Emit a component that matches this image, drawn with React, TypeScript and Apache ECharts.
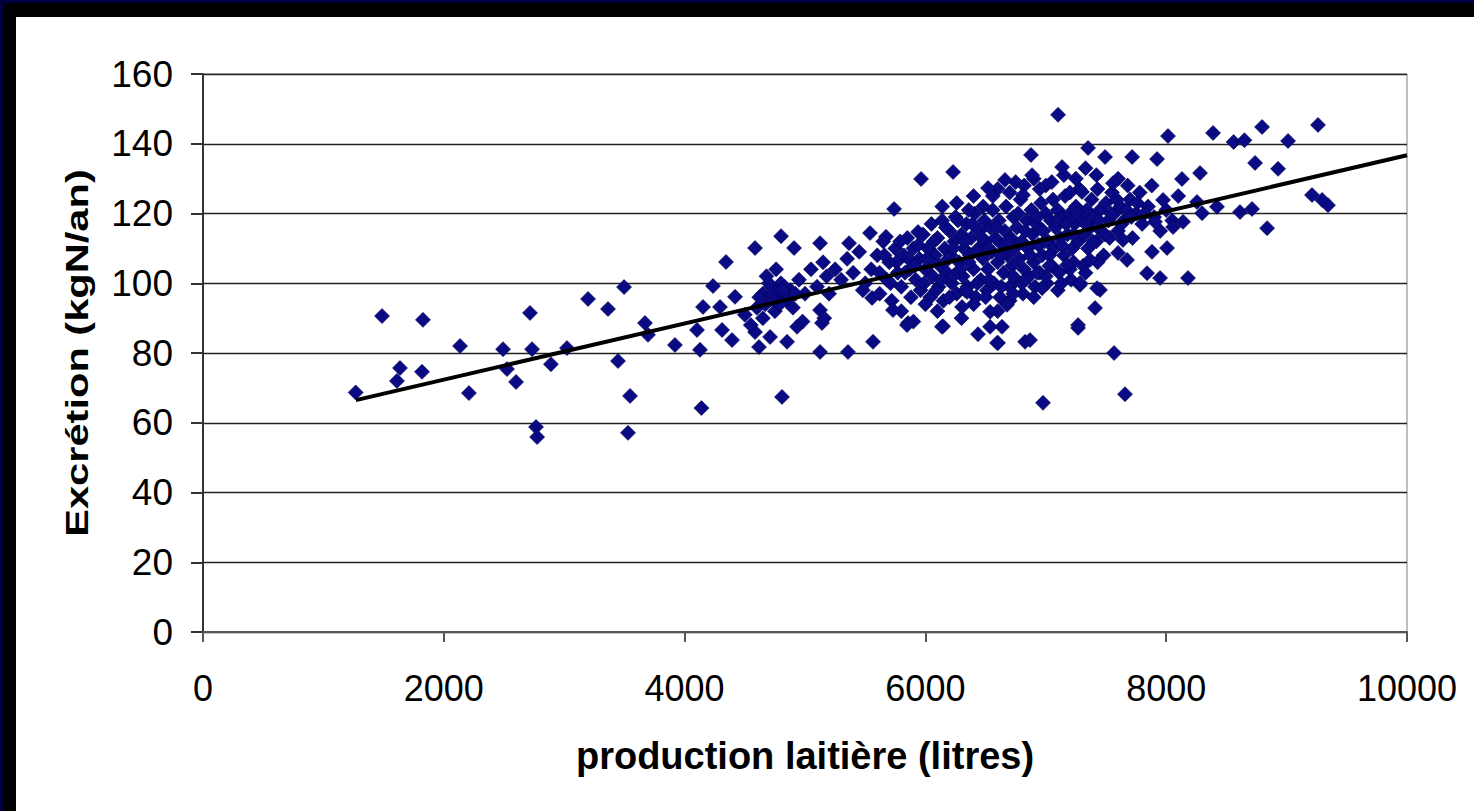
import React, { useEffect, useRef } from "react";
import * as echarts from "echarts";

// ---- Data (x: production laitière in litres, y: excrétion in kgN/an) ----
const xTicks = [0, 2000, 4000, 6000, 8000, 10000];
const yTicks = [0, 20, 40, 60, 80, 100, 120, 140, 160];

const lowPoints: number[][] = [
  [1268, 68.7], [1487, 90.6], [1636, 75.7], [1611, 72.0], [1827, 89.5], [1819, 74.6],
  [2135, 82.0], [2209, 68.5], [2492, 81.1], [2525, 75.4], [2600, 71.7], [2716, 91.5],
  [2733, 81.1], [2766, 58.8], [2775, 55.9], [2890, 76.8], [3023, 81.4], [3198, 95.5],
  [3364, 92.6], [3497, 98.9], [3447, 77.7], [3547, 67.7], [3530, 57.1], [3671, 88.6],
  [3696, 85.2], [3920, 82.3],
];

const midPoints: number[][] = [
  [4103, 86.6], [4128, 80.9], [4153, 93.2], [4236, 99.2], [4294, 93.2], [4311, 86.6],
  [4394, 83.7], [4419, 96.1], [4344, 106.1], [4585, 110.1], [4585, 86.0], [4618, 81.7],
  [4710, 84.6], [4851, 83.2], [4934, 87.5], [4809, 67.4], [5125, 80.3], [5357, 80.3],
  [5565, 83.2], [5557, 95.8], [5141, 88.6], [5125, 92.3], [4909, 110.1], [5125, 111.5],
  [5366, 111.5], [5540, 114.4], [4801, 113.5], [5673, 113.3], [5939, 114.7], [4140, 64.2],
  [4600, 93], [4650, 97], [4700, 95], [4720, 99], [4750, 92], [4780, 97], [4800, 100],
  [4850, 95], [4880, 98], [4900, 93], [4950, 101], [5000, 97], [5050, 104], [5100, 99],
  [5150, 106], [5180, 102], [5200, 97], [5250, 104], [5300, 101], [5350, 107], [5400, 103],
  [5450, 109], [5480, 98], [5160, 90], [4980, 89], [4500, 91], [4550, 88], [4650, 90],
  [4680, 102], [4760, 104], [4620, 96], [4670, 94], [4730, 97], [4790, 94], [4830, 99],
  [4870, 96], [4920, 97], [4700, 100], [4740, 95], [4810, 98],
];

const corePoints: number[][] = [
  [5500, 100], [5550, 104], [5600, 108], [5620, 97], [5650, 112], [5680, 101], [5700, 106],
  [5720, 95], [5750, 110], [5770, 103], [5800, 99], [5820, 108], [5850, 113], [5870, 104],
  [5880, 96], [5900, 110], [5920, 101], [5950, 107], [5960, 98], [5980, 114], [6000, 104],
  [6020, 110], [6040, 96], [6050, 117], [6060, 102], [6080, 108], [6100, 113], [6110, 99],
  [6120, 105], [6140, 118], [6150, 95], [6160, 110], [6180, 103], [6200, 115], [6210, 108],
  [6220, 100], [6240, 112], [6250, 119], [6260, 97], [6280, 106], [6300, 114], [6310, 102],
  [6320, 110], [6340, 117], [6350, 99], [6370, 108], [6380, 113], [6400, 104], [6410, 120],
  [6420, 96], [6440, 110], [6450, 115], [6460, 101], [6480, 107], [6490, 118], [6500, 112],
  [6510, 98], [6520, 104], [6540, 116], [6550, 109], [6560, 121], [6570, 100], [6580, 113],
  [6600, 106], [6610, 118], [6620, 96], [6640, 111], [6650, 103], [6660, 115], [6670, 122],
  [6680, 108], [6700, 99], [6710, 113], [6720, 105], [6730, 119], [6740, 110], [6750, 101],
  [6760, 116], [6780, 107], [6790, 124], [6800, 112], [6810, 97], [6820, 104], [6840, 118],
  [6850, 110], [6860, 102], [6880, 121], [6890, 114], [6900, 106], [6910, 99], [6920, 117],
  [6940, 111], [6950, 103], [6960, 123], [6970, 108], [6980, 115], [7000, 120], [7010, 100],
  [7020, 112], [7040, 118], [7050, 105], [7060, 124], [7070, 110], [7080, 116], [7100, 121],
  [7110, 103], [7120, 113], [7140, 119], [7150, 108], [7160, 125], [7180, 114], [7200, 120],
  [7210, 101], [7220, 110], [7240, 117], [7250, 122], [7270, 112], [7280, 127], [7300, 118],
  [7310, 105], [7320, 114], [7340, 121], [7350, 110], [7370, 116], [7380, 124], [7400, 119],
  [7420, 112], [7430, 127], [7450, 121], [7460, 115], [7480, 108], [7500, 123], [7520, 118],
  [7530, 113], [7550, 126], [7570, 120], [7600, 115], [7620, 122], [7650, 118], [7680, 128],
  [7700, 124], [7720, 113], [7750, 120], [7780, 126], [7800, 117], [7850, 122], [7880, 128],
  [7900, 119], [7950, 115], [8000, 121], [8050, 118], [8100, 125],
  [5800, 92], [5900, 89], [6000, 94], [6100, 92], [6200, 96], [6300, 90], [6400, 94],
  [6500, 96], [6600, 92], [6700, 95], [6800, 100], [6900, 96], [7000, 102], [7100, 98],
  [7200, 104], [6400, 125], [6600, 127], [6750, 129], [6900, 130], [7000, 128], [7150, 131],
  [7200, 126],
];

const coreFill: number[][] = [
  [6050, 106], [6070, 112], [6130, 101], [6170, 116], [6190, 107], [6230, 110], [6270, 118],
  [6290, 104], [6330, 112], [6360, 106], [6390, 117], [6430, 109], [6470, 113], [6530, 110],
  [6590, 116], [6630, 108], [6690, 112], [6730, 102], [6770, 120], [6830, 115], [6870, 108],
  [6930, 119], [6990, 112], [7030, 108], [7090, 118], [7130, 111], [7170, 117], [7230, 114],
  [7260, 120], [7330, 117], [7390, 112], [7440, 118], [7490, 114], [7540, 120], [7590, 124],
  [7630, 117], [7670, 121], [7710, 119], [7760, 123], [7820, 120], [5620, 103], [5660, 108],
  [5710, 100], [5760, 106], [5790, 112], [5830, 103], [5860, 107], [5910, 105], [5940, 111],
  [5990, 100], [6010, 107], [6090, 98], [6230, 102], [6330, 98], [6430, 100], [6530, 101],
  [6630, 99], [6730, 97], [6830, 101], [6930, 103], [7030, 105], [7130, 100], [7230, 106],
  [7330, 103], [7430, 106], [6700, 126], [6820, 128], [6950, 127], [7050, 129], [7250, 130],
  [7330, 133], [7420, 131], [7600, 130], [6560, 125], [6480, 122], [6360, 121], [6260, 123],
  [6140, 122],
];

const sparseLowRight: number[][] = [
  [7567, 80.0], [7658, 68.2], [6977, 65.7], [7268, 87.2], [7409, 92.9], [7450, 98.1],
  [6828, 83.2], [6869, 83.7], [6603, 82.9], [6437, 85.4], [6636, 87.5], [6537, 87.5],
  [6537, 91.8], [6678, 93.8], [6146, 87.7], [6304, 93.2], [5856, 88.6], [6346, 97.5],
  [6969, 98.6], [7284, 99.5], [5731, 92.3], [5847, 88.0], [6138, 87.5], [6595, 82.9],
];

const highPoints: number[][] = [
  [7102, 148.3], [5964, 129.9], [6230, 131.9], [5740, 121.3], [7351, 138.8], [7135, 133.3],
  [6877, 136.8], [6886, 131], [6520, 127.3], [6661, 129.6], [7301, 126.2], [6811, 125.3],
  [8015, 142.2], [8389, 143.1], [8560, 140.5], [8650, 141], [8796, 144.8], [9012, 140.8],
  [9261, 145.4], [8738, 134.5], [8929, 132.8], [9211, 125.3], [9344, 122.4], [9295, 123.9],
  [8838, 115.8], [8613, 120.4], [8713, 121.3], [8422, 121.9], [8298, 120.1], [8281, 131.6],
  [8131, 129.9], [8256, 123.3], [7924, 135.6], [7717, 136.2], [7492, 136.2], [7558, 128.7],
  [7974, 123.9], [7641, 112.4], [7882, 109], [8007, 110.1], [7841, 102.9], [7949, 101.5],
  [8181, 101.5], [7675, 106.7], [7600, 108.7], [7426, 98.6], [7284, 100.1], [7268, 88.0],
  [7367, 106.7], [7176, 105.2], [7907, 117.6], [8057, 116.1], [8140, 117.6],
];

const trendLine: number[][] = [
  [1270, 66.5],
  [10000, 136.7],
];

const xTitle = "production laitière (litres)";
const yTitle = "Excrétion (kgN/an)";

const FONT = 'Arial, "Liberation Sans", sans-serif';

export default function App() {
  const ref = useRef<HTMLDivElement>(null);

  useEffect(() => {
    document.body.style.margin = "0";
    document.body.style.background = "#ffffff";
    if (!ref.current) return;
    const chart = echarts.init(ref.current, null, { renderer: "svg" });
    const allPoints = [
      ...lowPoints,
      ...midPoints,
      ...corePoints,
      ...coreFill,
      ...sparseLowRight,
      ...highPoints,
    ];
    chart.setOption({
      animation: false,
      backgroundColor: "#ffffff",
      grid: {
        left: 203,
        right: 67,
        top: 74,
        bottom: 179,
        show: true,
        borderColor: "#808080",
        borderWidth: 1,
        backgroundColor: "transparent",
      },
      xAxis: {
        type: "value",
        min: xTicks[0],
        max: xTicks[xTicks.length - 1],
        interval: 2000,
        axisLine: { show: true, onZero: false, lineStyle: { color: "#555555", width: 2 } },
        axisTick: { show: true, inside: false, length: 10, lineStyle: { color: "#555555", width: 2 } },
        splitLine: { show: false },
        axisLabel: {
          color: "#000000",
          fontSize: 36,
          fontFamily: FONT,
          margin: 38,
          formatter: (v: number) => String(v),
        },
      },
      yAxis: {
        type: "value",
        min: yTicks[0],
        max: yTicks[yTicks.length - 1],
        interval: 20,
        axisLine: { show: true, onZero: false, lineStyle: { color: "#333333", width: 2 } },
        axisTick: { show: true, inside: false, length: 12, lineStyle: { color: "#333333", width: 2 } },
        splitLine: { show: true, lineStyle: { color: "#222222", width: 1.3 } },
        axisLabel: {
          color: "#000000",
          fontSize: 37,
          fontFamily: FONT,
          margin: 30,
          formatter: (v: number) => String(v),
        },
      },
      graphic: [
        {
          type: "text",
          x: 805,
          y: 756,
          style: {
            text: xTitle,
            fontSize: 38,
            fontWeight: "bold",
            fontFamily: FONT,
            fill: "#000000",
            align: "center",
            verticalAlign: "middle",
          },
        },
        {
          type: "text",
          x: 77,
          y: 353,
          rotation: Math.PI / 2,
          scaleX: 1.3,
          style: {
            text: yTitle,
            fontSize: 32,
            fontWeight: "bold",
            fontFamily: FONT,
            fill: "#000000",
            align: "center",
            verticalAlign: "middle",
          },
        },
      ],
      series: [
        {
          type: "scatter",
          data: allPoints,
          symbol: "diamond",
          symbolSize: 15,
          itemStyle: { color: "#0a0a84", borderColor: "#000050", borderWidth: 0.6, opacity: 1 },
          z: 2,
        },
        {
          type: "line",
          data: trendLine,
          symbol: "none",
          lineStyle: { color: "#000000", width: 4 },
          z: 3,
        },
      ],
    });
    return () => chart.dispose();
  }, []);

  return (
    <div style={{ position: "fixed", left: 0, top: 0, width: 1474, height: 811, background: "#ffffff" }}>
      <div ref={ref} style={{ position: "absolute", left: 0, top: 0, width: 1474, height: 811 }} />
      <div style={{ position: "absolute", left: 0, top: 0, width: 1474, height: 17, background: "#000000" }} />
      <div style={{ position: "absolute", left: 0, top: 0, width: 16, height: 811, background: "#000000" }} />
      <div style={{ position: "absolute", left: 0, top: 0, width: 1474, height: 3, background: "#000040" }} />
      <div style={{ position: "absolute", left: 0, top: 0, width: 3, height: 811, background: "#000040" }} />
    </div>
  );
}
